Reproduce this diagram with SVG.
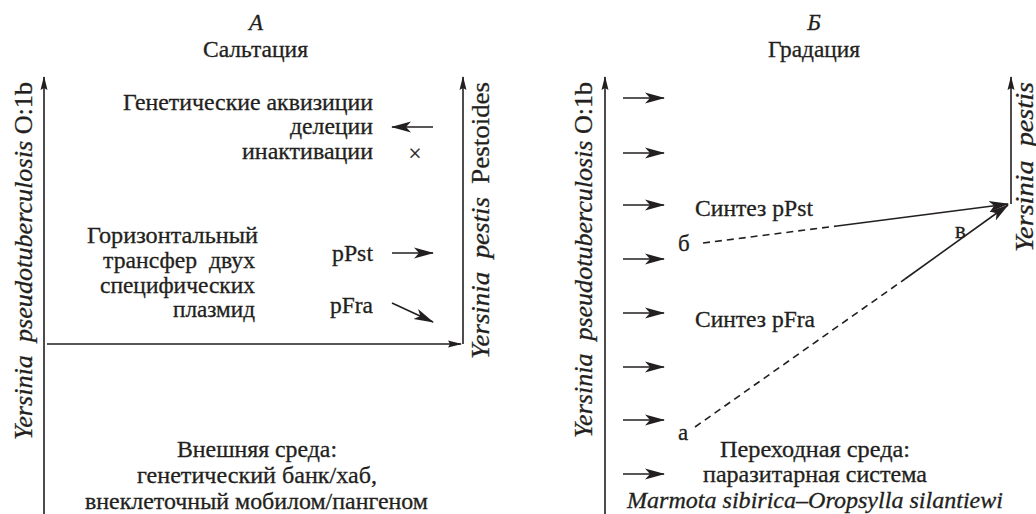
<svg xmlns="http://www.w3.org/2000/svg" width="1036" height="514" viewBox="0 0 1036 514">
<style>
.t{font-family:"Liberation Serif","Times New Roman",serif;font-size:23px;fill:#231f20;stroke:#231f20;stroke-width:0.3}
.i{font-style:italic}
.v{font-family:"Liberation Serif","Times New Roman",serif;font-size:25px;fill:#231f20;stroke:#231f20;stroke-width:0.3}
.ln{stroke:#231f20;stroke-width:1.6;fill:none}
.ar{marker-end:url(#ah)}
.ax{marker-end:url(#axh)}
.dash{stroke-dasharray:7 5}
</style>
<defs>
<marker id="ah" viewBox="0 0 20 12" refX="19" refY="6" markerWidth="20" markerHeight="12" markerUnits="userSpaceOnUse" orient="auto"><path d="M0,0.5 L20,6 L0,11.5 L5,6 z" fill="#231f20"/></marker>
<marker id="axh" viewBox="0 0 14 8" refX="13" refY="4" markerWidth="14" markerHeight="8" markerUnits="userSpaceOnUse" orient="auto"><path d="M0,0.5 L14,4 L0,7.5 L2,4 z" fill="#231f20"/></marker>
</defs>

<g id="panelA-title">
<text class="t i" x="256" y="30" text-anchor="middle">А</text>
<text class="t" x="203" y="57" textLength="105" lengthAdjust="spacingAndGlyphs">Сальтация</text>
</g>
<g id="panelB-title">
<text class="t i" x="814" y="30" text-anchor="middle">Б</text>
<text class="t" x="768" y="57" textLength="92" lengthAdjust="spacingAndGlyphs">Градация</text>
</g>

<g id="A-source-label">
<text class="v" transform="translate(32,440) rotate(-90)" textLength="358" lengthAdjust="spacingAndGlyphs"><tspan class="i">Yersinia&#160; pseudotuberculosis</tspan> O:1b</text>
</g>
<g id="A-target-label">
<text class="v" transform="translate(489,359) rotate(-90)" textLength="277" lengthAdjust="spacingAndGlyphs"><tspan class="i">Yersinia&#160; pestis</tspan>&#160; Pestoides</text>
</g>
<g id="B-source-label">
<text class="v" transform="translate(592,438) rotate(-90)" textLength="356" lengthAdjust="spacingAndGlyphs"><tspan class="i">Yersinia&#160; pseudotuberculosis</tspan> O:1b</text>
</g>
<g id="B-target-label">
<text class="v i" transform="translate(1033,252) rotate(-90)" textLength="170" lengthAdjust="spacingAndGlyphs">Yersinia&#160; pestis</text>
</g>

<g id="A-acquisitions">
<text class="t" x="123" y="110" textLength="250" lengthAdjust="spacingAndGlyphs">Генетические аквизиции</text>
<text class="t" x="290" y="134" textLength="83" lengthAdjust="spacingAndGlyphs">делеции</text>
<text class="t" x="242" y="159" textLength="131" lengthAdjust="spacingAndGlyphs">инактивации</text>
<text class="t" x="415" y="161" text-anchor="middle" font-size="19">×</text>
</g>
<g id="A-transfer">
<text class="t" x="87" y="243" textLength="171" lengthAdjust="spacingAndGlyphs">Горизонтальный</text>
<text class="t" x="103" y="268" textLength="152" lengthAdjust="spacingAndGlyphs">трансфер&#160; двух</text>
<text class="t" x="100" y="293" textLength="155" lengthAdjust="spacingAndGlyphs">специфических</text>
<text class="t" x="173" y="317" textLength="82" lengthAdjust="spacingAndGlyphs">плазмид</text>
</g>
<g id="A-pPst"><text class="t" x="332" y="261" textLength="41" lengthAdjust="spacingAndGlyphs">pPst</text></g>
<g id="A-pFra"><text class="t" x="330" y="313" textLength="43" lengthAdjust="spacingAndGlyphs">pFra</text></g>
<g id="A-environment">
<text class="t" x="177" y="457" textLength="160" lengthAdjust="spacingAndGlyphs">Внешняя среда:</text>
<text class="t" x="137" y="483" textLength="240" lengthAdjust="spacingAndGlyphs">генетический банк/хаб,</text>
<text class="t" x="85" y="509" textLength="343" lengthAdjust="spacingAndGlyphs">внеклеточный мобилом/пангеном</text>
</g>

<g id="B-pPst"><text class="t" x="695" y="216" textLength="118" lengthAdjust="spacingAndGlyphs">Синтез pPst</text></g>
<g id="B-pFra"><text class="t" x="695" y="327" textLength="120" lengthAdjust="spacingAndGlyphs">Синтез pFra</text></g>
<g id="B-point-b"><text class="t" x="678" y="251">б</text></g>
<g id="B-point-v"><text class="t" x="955" y="238" font-size="20">в</text></g>
<g id="B-point-a"><text class="t" x="678" y="440">а</text></g>
<g id="B-environment">
<text class="t" x="720" y="457" textLength="190" lengthAdjust="spacingAndGlyphs">Переходная среда:</text>
<text class="t" x="703" y="482" textLength="224" lengthAdjust="spacingAndGlyphs">паразитарная система</text>
<text class="t i" x="627" y="508" textLength="376" lengthAdjust="spacingAndGlyphs">Marmota sibirica–Oropsylla silantiewi</text>
</g>

<g id="connectors">
<line class="ln ax" x1="44" y1="514" x2="44" y2="77"/>
<line class="ln ax" x1="463" y1="344" x2="463" y2="77"/>
<line class="ln ax" x1="47" y1="344" x2="461" y2="344"/>
<line class="ln ar" x1="433" y1="127" x2="392" y2="127"/>
<line class="ln ar" x1="392" y1="253" x2="433" y2="253"/>
<line class="ln ar" x1="392" y1="303" x2="433" y2="322"/>

<line class="ln ax" x1="605" y1="514" x2="605" y2="77"/>
<line class="ln ax" x1="1011" y1="204" x2="1011" y2="77"/>
<line class="ln ar" x1="623" y1="98" x2="664" y2="98"/>
<line class="ln ar" x1="623" y1="153" x2="664" y2="153"/>
<line class="ln ar" x1="623" y1="205" x2="664" y2="205"/>
<line class="ln ar" x1="623" y1="259" x2="664" y2="259"/>
<line class="ln ar" x1="623" y1="313" x2="664" y2="313"/>
<line class="ln ar" x1="623" y1="367" x2="664" y2="367"/>
<line class="ln ar" x1="623" y1="420" x2="664" y2="420"/>
<line class="ln ar" x1="623" y1="474" x2="664" y2="474"/>
<line class="ln dash" x1="703" y1="243" x2="837" y2="226"/>
<line class="ln ar" x1="837" y1="226" x2="1008" y2="204"/>
<line class="ln dash" x1="695" y1="427" x2="905" y2="279"/>
<line class="ln ar" x1="905" y1="279" x2="1008" y2="205"/>
</g>
</svg>
